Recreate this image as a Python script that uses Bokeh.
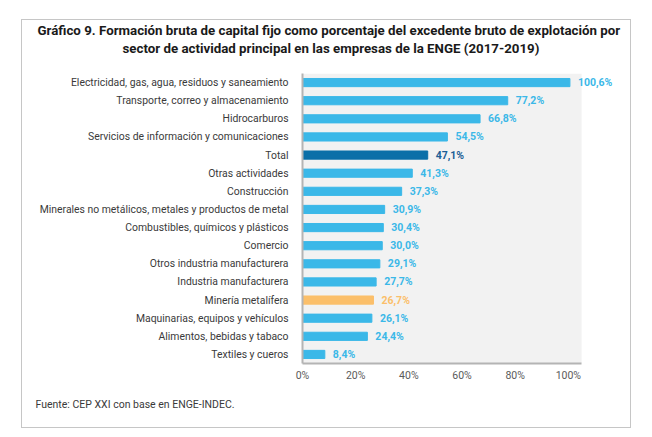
from bokeh.embed import file_html
from bokeh.resources import INLINE
from bokeh.models import ColumnDataSource, FixedTicker, PrintfTickFormatter, Title, BoxAnnotation
from bokeh.plotting import figure

TITLE_1 = "Gráfico 9. Formación bruta de capital fijo como porcentaje del excedente bruto de explotación por"
TITLE_2 = "sector de actividad principal en las empresas de la ENGE (2017-2019)"
SOURCE = "Fuente: CEP XXI con base en ENGE-INDEC."

sectors = [
    "Electricidad, gas, agua, residuos y saneamiento",
    "Transporte, correo y almacenamiento",
    "Hidrocarburos",
    "Servicios de información y comunicaciones",
    "Total",
    "Otras actividades",
    "Construcción",
    "Minerales no metálicos, metales y productos de metal",
    "Combustibles, químicos y plásticos",
    "Comercio",
    "Otros industria manufacturera",
    "Industria manufacturera",
    "Minería metalífera",
    "Maquinarias, equipos y vehículos",
    "Alimentos, bebidas y tabaco",
    "Textiles y cueros",
]
values = [100.6, 77.2, 66.8, 54.5, 47.1, 41.3, 37.3, 30.9, 30.4, 30.0, 29.1, 27.7, 26.7, 26.1, 24.4, 8.4]
x_ticks = [0, 20, 40, 60, 80, 100]

BLUE = "#3bb8e8"
DARK = "#0b6fa8"
ORANGE = "#fbbf6a"


def bar_color(name):
    if name == "Total":
        return DARK
    if name == "Minería metalífera":
        return ORANGE
    return BLUE


def text_color(name):
    if name == "Total":
        return "#1c5e96"
    return bar_color(name)


source = ColumnDataSource(data=dict(
    sector=sectors,
    value=values,
    label=[f"{v:.1f}%".replace(".", ",") for v in values],
    color=[bar_color(s) for s in sectors],
    tcolor=[text_color(s) for s in sectors],
))

p = figure(
    y_range=list(reversed(sectors)), x_range=(0, 120),
    width=610, height=409, output_backend="svg", toolbar_location=None,
    min_border_left=280, min_border_right=11, min_border_top=53, min_border_bottom=66,
    margin=(19, 0, 0, 21),
    styles={"border": "1px solid #c6c6c6"},
)
p.background_fill_color = "white"
p.border_fill_color = "white"
p.outline_line_color = None
p.grid.grid_line_color = None

# grey panel behind the bars, only up to 105
p.add_layout(BoxAnnotation(left=0, right=105, fill_color="#f2f2f2", fill_alpha=1,
                           line_color=None, level="underlay"))

p.hbar(y="sector", right="value", height=0.45, color="color", source=source)
p.text(x="value", y="sector", text="label", text_color="tcolor", source=source,
       x_offset=8, text_baseline="middle", text_font_size="10.5px",
       text_font_style="bold", text_font={"value": "Roboto"})

p.yaxis.axis_line_color = "#b4b4b4"
p.yaxis.axis_line_width = 2
p.yaxis.major_tick_line_color = None
p.yaxis.minor_tick_line_color = None
p.yaxis.major_label_standoff = 8
p.yaxis.major_label_text_font = "Roboto"
p.yaxis.major_label_text_font_size = "10.4px"
p.yaxis.major_label_text_color = "#3a3a3a"

p.xaxis.ticker = FixedTicker(ticks=x_ticks)
p.xaxis.formatter = PrintfTickFormatter(format="%d%%")
p.xaxis.bounds = (0, 105)
p.xaxis.axis_line_color = "#b4b4b4"
p.xaxis.axis_line_width = 2
p.xaxis.major_tick_line_color = None
p.xaxis.minor_tick_line_color = None
p.xaxis.major_tick_out = 0
p.xaxis.major_label_standoff = 5
p.xaxis.major_label_text_font = "Roboto"
p.xaxis.major_label_text_font_size = "10.5px"
p.xaxis.major_label_text_color = "#5a5a5a"

# spacer between frame and title, then the two title lines
p.add_layout(Title(text=" ", text_font_size="1px", standoff=14), "above")
p.add_layout(Title(text=TITLE_2, align="left", offset=121 - 301, standoff=2,
                   text_font="Roboto", text_font_style="bold", text_font_size="13.3px",
                   text_color="#1a1a1a"), "above")
p.add_layout(Title(text=TITLE_1, align="left", offset=36 - 301, standoff=0,
                   text_font="Roboto", text_font_style="bold", text_font_size="13.3px",
                   text_color="#1a1a1a"), "above")
p.add_layout(Title(text=SOURCE, align="left", offset=34 - 301, standoff=22,
                   text_font="Roboto", text_font_style="normal", text_font_size="10.5px",
                   text_color="#3a3a3a"), "below")

open("out.html", "w").write(file_html(p, INLINE))
